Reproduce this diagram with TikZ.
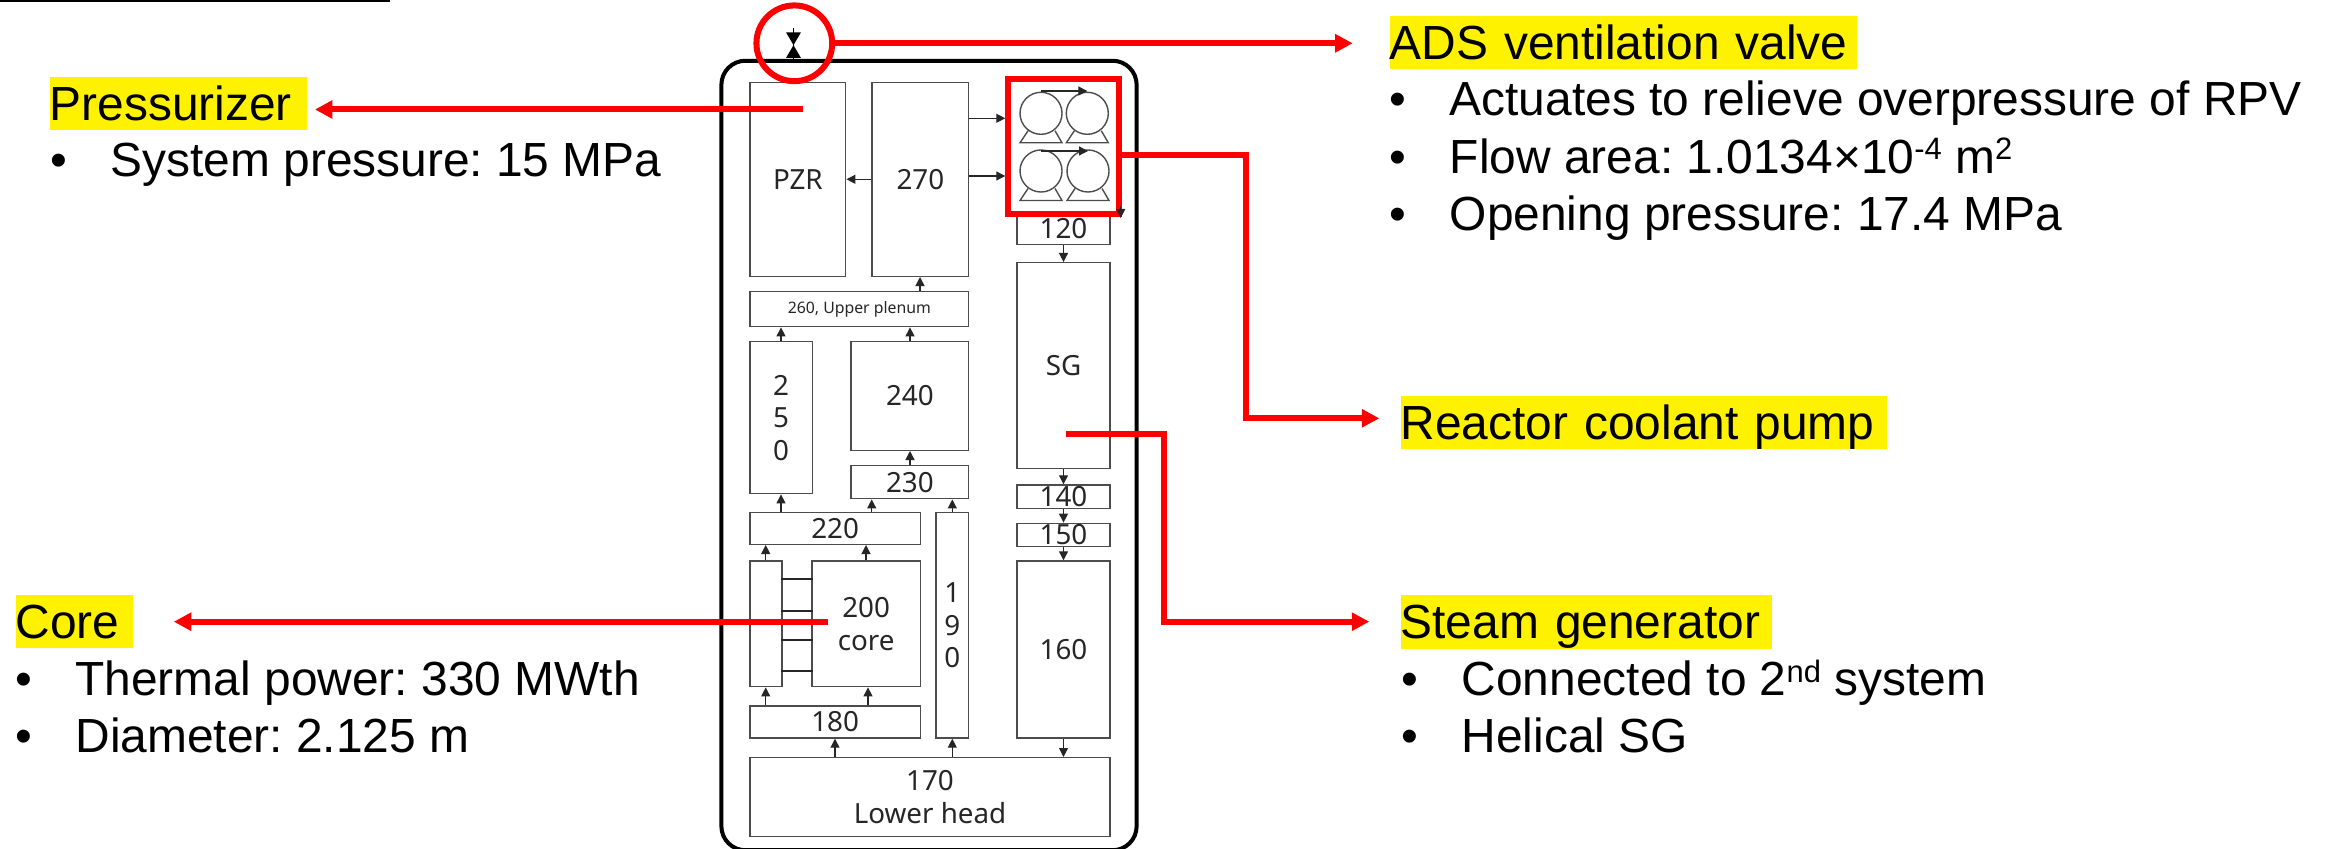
\documentclass[tikz,border=0pt]{standalone}
\usepackage{fontspec}
\setmainfont{Liberation Sans}
\newfontfamily\boxfont{Noto Sans}
\usetikzlibrary{arrows.meta}
\frenchspacing

\newcommand{\supr}[1]{\raisebox{3.8pt}{\fontsize{8.8}{9}\selectfont #1}}
\newcommand{\itm}[1]{\makebox[.6cm][l]{•}#1}

\tikzset{
	unit/.style={draw=black!70,line width=.014cm,inner sep=0pt,align=center,text=black!85,
		font=\boxfont\fontsize{7.9}{9.25}\selectfont},
	flow/.style={draw=black!85,line width=.012cm,-{Triangle[length=.09cm,width=.09cm]}},
	tie/.style={draw=black!85,line width=.02cm,shorten <=-.015cm,shorten >=-.015cm},
	head/.style={fill=yellow,anchor=north west,inner sep=0pt,text height=.435cm,text depth=.1cm,align=left},
	itemlab/.style={anchor=base west,inner sep=0pt},
	callout/.style={draw=red,line width=.06cm,-{Triangle[length=.175cm,width=.175cm]}},
	redmark/.style={draw=red,line width=.06cm,inner sep=0pt},
}

\begin{document}
\begin{tikzpicture}[x=0.01cm,y=-0.01cm,font=\fontsize{13.62}{16}\selectfont]
	\useasboundingbox (0,0) rectangle (2328,849);

	%%% Rule at the top edge
	\coordinate (rulea) at (0,1);
	\coordinate (ruleb) at (390,1);
	\draw[line width=.025cm] (rulea) -- (ruleb);

	%%% Vessel
	\node[draw,line width=.04cm,rounded corners=.24cm,minimum width=4.15cm,minimum height=7.89cm] (vessel) at (929,455.5) {};

	%%% Boxes: name / left / top / right / bottom / label
	\foreach \nm/\xa/\ya/\xb/\yb/\lab in {
		bpzr/750/82.3/845.7/276.3/PZR,
		b270/872/82.3/968.7/276.3/270,
		b250/750/341.7/812.3/493.7/2\\5\\0,
		b240/851/341.7/968.7/450.3/240,
		b230/851/465.7/968.7/498.7/230,
		b220/750/512.7/920.3/544.3/220,
		b190/936/512.7/968.7/738/1\\9\\0,
		bleft/750/561/782/686.7/,
		bcore/812/561/920.3/686.7/200\\core,
		b180/750/706/920.3/738/180,
		b170/750/757.7/1110/836.7/170\\Lower head,
		b120/1017/213/1110/244.3/120,
		bsg/1017/262.7/1110/468.3/SG,
		b140/1017/485/1110/508.3/140,
		b150/1017/523.3/1110/546.3/150,
		b160/1017/561/1110/738/160} {
		\node[unit,minimum width={(\xb-\xa)*0.01cm},minimum height={(\yb-\ya)*0.01cm}] (\nm) at ({(\xa+\xb)/2},{(\ya+\yb)/2}) {\lab};
	}
	\node[unit,minimum width=2.187cm,minimum height=.35cm,font=\boxfont\fontsize{4.5}{6}\selectfont] (b260) at (859.35,309.2) {260, Upper plenum};

	%%% Arrows going up
	\foreach \src/\dst/\xx in {
		b260/b270/920, b250/b260/781, b240/b260/910, b230/b240/910,
		b220/b250/781, b220/b230/871.7, b190/b230/952.3, bleft/b220/765.7,
		bcore/b220/866, b180/bleft/765.7, b180/bcore/868, b170/b180/835, b170/b190/952.3} {
		\draw[flow] (\src.north -| \xx,0) -- (\dst.south -| \xx,0);
	}

	%%% Arrows going down
	\foreach \src/\dst in {b120/bsg, bsg/b140, b140/b150, b150/b160} {
		\draw[flow] (\src.south) -- (\dst.north);
	}
	\draw[flow] (b160.south) -- (b160.south |- b170.north);
	\draw[flow] (b270.west) -- (bpzr.east);

	%%% Links between the left channel and the core
	\foreach \yy in {579,611,640,670.7} {
		\draw[tie] (bleft.east |- 0,\yy) -- (bcore.west |- 0,\yy);
	}

	%%% Pumps
	\foreach \nm/\px/\py in {pumpa/1041/113.3, pumpb/1087.3/113.3, pumpc/1041/171, pumpd/1088/171} {
		\node[circle,draw=black!70,line width=.014cm,minimum size=.42cm,inner sep=0pt] (\nm) at (\px,\py) {};
		\draw[draw=black!70,line width=.014cm] (\px-13,\py+17.5) -- (\px-21,\py+29.5) -- (\px+21,\py+29.5) -- (\px+14,\py+17.5);
	}
	\draw[flow] (pumpa.north |- 0,91) -- (pumpb.north |- 0,91);
	\draw[flow] (pumpc.north |- 0,151) -- (pumpd.north |- 0,151);

	%%% Valve
	\draw[line width=.012cm] (793.3,28) -- (vessel.north -| 793.3,0);
	\fill (786,32.3) -- (801,32.3) -- (786,58) -- (801,58) -- cycle;

	%%% Red marks
	\node[redmark,circle,minimum size=.757cm] (ventring) at (794.3,43.3) {};
	\node[redmark,minimum width=1.107cm,minimum height=1.347cm] (pumpframe) at (1063.65,146.65) {};
	\draw[flow] (b270.east |- 0,118.3) -- (pumpframe.west |- 0,118.3);
	\draw[flow] (b270.east |- 0,176) -- (pumpframe.west |- 0,176);
	\coordinate (spilla) at (1120.7,206);
	\coordinate (spillb) at (1120.7,218);
	\draw[flow] (spilla) -- (spillb);

	%%% Headings
	\node[head,text width=2.57cm] (pzrlab) at (49,76) {Pressurizer};
	\node[head,text width=1.17cm] (corelab) at (15,594) {Core};
	\node[head,text width=4.67cm] (adslab) at (1389,15) {ADS ventilation valve};
	\node[head,text width=4.86cm] (rcplab) at (1400,395) {Reactor coolant pump};
	\node[head,text width=3.71cm] (sglab) at (1400,594.3) {Steam generator};

	%%% Bullet lines
	\foreach \nm/\xx/\yy/\txt in {
		pzra/49.7/176.7/System pressure: 15 MPa,
		corea/14.7/695.7/Thermal power: 330 MWth,
		coreb/14.7/752.7/Diameter: 2.125 m,
		adsa/1389/115.7/Actuates to relieve overpressure of RPV,
		adsb/1389/173.3/Flow area: 1.0134×10\supr{-4} m\supr{2},
		adsc/1389/230.7/Opening pressure: 17.4 MPa,
		sga/1401/695.7/Connected to 2\supr{nd} system,
		sgb/1401/752.7/Helical SG} {
		\node[itemlab] (\nm) at (\xx,\yy) {\itm{\txt}};
	}

	%%% Red connectors
	\coordinate (pzrtap) at (803,109.5);
	\coordinate (coretap) at (828.3,621.7);
	\coordinate (sgtap) at (1066,433.7);
	\coordinate (sgbend) at (1164.3,433.7);
	\coordinate (sgknee) at (1164.3,621.7);
	\coordinate (rcpbend) at (1246,155);
	\coordinate (rcpknee) at (1246,418.3);
	\draw[callout,shorten >=.074cm] (pzrtap) -- (pzrlab.east |- pzrtap);
	\draw[callout,shorten >=.403cm] (coretap) -- (corelab.east |- coretap);
	\draw[callout,shorten >=.363cm] (ventring.east) -- (adslab.west |- ventring.east);
	\draw[callout,shorten >=.207cm] (pumpframe.east |- rcpbend) -- (rcpbend) -- (rcpknee) -- (rcplab.west |- rcpknee);
	\draw[callout,shorten >=.307cm] (sgtap) -- (sgbend) -- (sgknee) -- (sglab.west |- sgknee);
\end{tikzpicture}
\end{document}
